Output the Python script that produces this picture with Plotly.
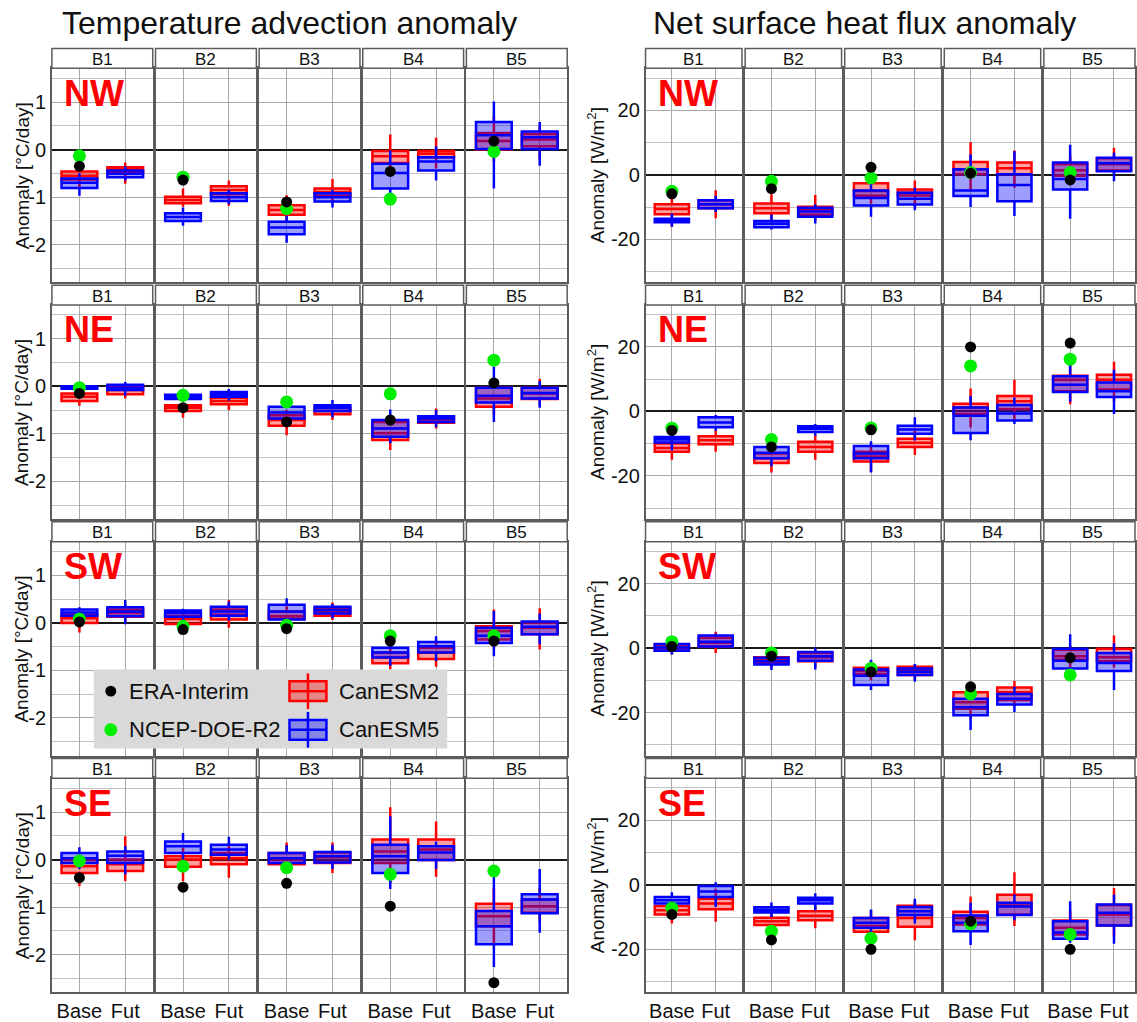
import plotly.graph_objects as go

W, H = 1137, 1022

regions = ["NW", "NE", "SW", "SE"]
basins = ["B1", "B2", "B3", "B4", "B5"]
periods = ["Base", "Fut"]

# Box statistics per region (rows) and basin (columns): (lower whisker, Q1, median, Q3, upper whisker)
# Temperature advection anomaly [°C/day]
adv_can2_base = [
    [(-0.80, -0.63, -0.55, -0.46, -0.35), (-1.20, -1.13, -1.06, -0.99, -0.82), (-1.50, -1.37, -1.27, -1.17, -0.96), (-0.50, -0.28, -0.14, -0.03, 0.32), (-0.25, 0.00, 0.18, 0.35, 0.70)],
    [(-0.41, -0.31, -0.22, -0.15, -0.08), (-0.66, -0.52, -0.45, -0.40, -0.35), (-1.03, -0.83, -0.71, -0.61, -0.50), (-1.34, -1.13, -0.99, -0.75, -0.60), (-0.60, -0.43, -0.26, -0.03, 0.10)],
    [(-0.20, 0.00, 0.10, 0.17, 0.25), (-0.15, -0.02, 0.08, 0.15, 0.20), (0.00, 0.08, 0.14, 0.24, 0.35), (-0.98, -0.85, -0.73, -0.63, -0.45), (-0.55, -0.35, -0.17, -0.07, 0.28)],
    [(-0.56, -0.28, -0.14, 0.00, 0.10), (-0.45, -0.15, 0.00, 0.07, 0.25), (-0.30, -0.10, 0.00, 0.14, 0.36), (-0.50, -0.07, 0.17, 0.42, 1.10), (-1.80, -1.40, -1.19, -0.93, -0.60)],
]
adv_can2_fut = [
    [(-0.72, -0.48, -0.42, -0.37, -0.27), (-1.18, -0.94, -0.85, -0.77, -0.65), (-1.10, -0.97, -0.89, -0.82, -0.62), (-0.40, -0.16, -0.09, -0.03, 0.25), (-0.20, 0.07, 0.21, 0.33, 0.50)],
    [(-0.26, -0.17, -0.08, 0.00, 0.05), (-0.50, -0.38, -0.31, -0.24, -0.15), (-0.71, -0.59, -0.52, -0.45, -0.40), (-0.89, -0.77, -0.70, -0.64, -0.47), (-0.40, -0.27, -0.15, -0.03, 0.16)],
    [(0.00, 0.13, 0.21, 0.28, 0.40), (-0.10, 0.07, 0.17, 0.28, 0.48), (0.06, 0.15, 0.24, 0.31, 0.43), (-0.92, -0.76, -0.63, -0.52, -0.40), (-0.56, -0.24, -0.10, 0.01, 0.31)],
    [(-0.45, -0.24, -0.10, 0.00, 0.49), (-0.38, -0.10, 0.03, 0.14, 0.35), (-0.28, -0.07, 0.05, 0.15, 0.36), (-0.36, -0.01, 0.21, 0.42, 0.80), (-1.30, -1.12, -0.98, -0.84, -0.60)],
]
adv_can5_base = [
    [(-0.97, -0.81, -0.70, -0.61, -0.50), (-1.60, -1.50, -1.42, -1.34, -1.22), (-1.96, -1.78, -1.64, -1.52, -1.39), (-1.00, -0.82, -0.49, -0.30, -0.02), (-0.82, 0.01, 0.30, 0.58, 1.01)],
    [(-0.10, -0.05, -0.03, 0.00, 0.02), (-0.32, -0.27, -0.22, -0.18, -0.14), (-0.85, -0.68, -0.55, -0.43, -0.29), (-1.20, -1.06, -0.89, -0.71, -0.49), (-0.75, -0.34, -0.20, -0.03, 0.41)],
    [(0.05, 0.15, 0.22, 0.28, 0.33), (0.05, 0.13, 0.21, 0.26, 0.30), (-0.07, 0.07, 0.24, 0.38, 0.52), (-0.90, -0.73, -0.62, -0.52, -0.35), (-0.70, -0.42, -0.27, -0.10, 0.25)],
    [(-0.20, -0.07, 0.03, 0.14, 0.26), (0.00, 0.14, 0.28, 0.38, 0.56), (-0.20, -0.07, 0.03, 0.14, 0.30), (-0.62, -0.28, 0.07, 0.31, 0.91), (-2.26, -1.78, -1.40, -1.08, -0.24)],
]
adv_can5_fut = [
    [(-0.65, -0.58, -0.51, -0.44, -0.35), (-1.15, -1.08, -1.00, -0.92, -0.85), (-1.22, -1.09, -1.00, -0.92, -0.85), (-0.65, -0.44, -0.25, -0.16, 0.07), (-0.34, 0.01, 0.26, 0.38, 0.58)],
    [(-0.20, -0.08, -0.03, 0.03, 0.09), (-0.30, -0.22, -0.17, -0.12, -0.06), (-0.65, -0.52, -0.45, -0.40, -0.29), (-0.86, -0.75, -0.68, -0.63, -0.50), (-0.45, -0.26, -0.14, -0.03, 0.11)],
    [(-0.03, 0.14, 0.24, 0.33, 0.48), (0.05, 0.15, 0.24, 0.34, 0.45), (0.10, 0.20, 0.27, 0.34, 0.40), (-0.80, -0.62, -0.49, -0.40, -0.28), (-0.45, -0.24, -0.08, 0.03, 0.20)],
    [(-0.31, -0.07, 0.08, 0.17, 0.28), (0.00, 0.10, 0.21, 0.31, 0.48), (-0.20, -0.06, 0.07, 0.16, 0.31), (-0.20, -0.01, 0.15, 0.28, 0.38), (-1.54, -1.13, -0.84, -0.73, -0.20)],
]
adv_era = [
    [-0.35, -0.64, -1.10, -0.46, 0.18],
    [-0.15, -0.45, -0.75, -0.71, 0.07],
    [0.02, -0.14, -0.12, -0.38, -0.38],
    [-0.38, -0.58, -0.50, -0.98, -2.59],
]
adv_ncep = [
    [-0.13, -0.58, -1.24, -1.04, -0.04],
    [-0.03, -0.19, -0.33, -0.16, 0.55],
    [0.08, -0.07, -0.05, -0.27, -0.27],
    [-0.03, -0.14, -0.17, -0.31, -0.24],
]

# Net surface heat flux anomaly [W/m2]
flux_can2_base = [
    [(-16.2, -12.2, -10.6, -9.1, -7.0), (-14.0, -11.9, -10.4, -8.9, -6.0), (-9.0, -6.5, -5.0, -2.6, 0.0), (-5.0, 0.2, 1.7, 4.0, 10.1), (-3.0, -0.3, 1.4, 3.3, 6.0)],
    [(-15.0, -12.5, -11.3, -9.9, -7.0), (-18.9, -16.0, -14.5, -13.0, -11.0), (-18.5, -15.5, -14.0, -12.5, -10.0), (-5.0, -0.8, 1.2, 2.4, 7.1), (2.2, 6.3, 9.8, 11.1, 15.0)],
    [(-2.0, -0.8, 0.0, 1.0, 2.0), (-6.0, -4.6, -3.6, -2.8, -1.5), (-10.0, -8.1, -7.1, -6.1, -4.0), (-22.0, -18.8, -16.8, -13.7, -12.0), (-6.0, -3.6, -2.5, -0.5, 1.0)],
    [(-12.0, -9.2, -7.9, -6.6, -5.0), (-14.0, -12.5, -11.3, -10.2, -8.0), (-17.0, -14.6, -12.8, -10.3, -8.0), (-14.0, -12.3, -10.3, -8.4, -3.6), (-17.0, -15.4, -13.3, -11.1, -8.0)],
]
flux_can2_fut = [
    [(-13.5, -10.4, -9.1, -7.9, -4.8), (-14.0, -12.4, -10.9, -9.9, -6.3), (-10.0, -6.4, -5.6, -4.6, -1.8), (-4.0, 0.2, 2.0, 3.8, 7.5), (0.0, 1.3, 3.3, 5.1, 8.4)],
    [(-12.5, -10.2, -8.9, -7.7, -5.9), (-15.0, -12.5, -11.0, -9.4, -7.4), (-13.5, -11.0, -9.7, -8.5, -6.0), (-3.0, 0.7, 3.2, 4.8, 9.8), (3.0, 6.8, 9.8, 11.4, 15.4)],
    [(-1.5, 0.5, 1.7, 3.2, 5.1), (-6.0, -4.1, -2.8, -1.5, 0.0), (-10.0, -8.3, -6.9, -5.8, -5.0), (-18.0, -16.2, -13.7, -12.2, -10.2), (-6.0, -4.1, -2.8, -0.2, 3.9)],
    [(-11.5, -7.6, -5.8, -4.3, -1.2), (-13.5, -11.0, -9.6, -8.2, -6.5), (-17.2, -13.0, -10.3, -6.5, -5.0), (-12.8, -9.2, -6.4, -3.1, 3.9), (-16.0, -12.6, -9.2, -6.3, -1.0)],
]
flux_can5_base = [
    [(-16.0, -14.7, -14.1, -13.6, -12.0), (-17.0, -16.3, -15.2, -14.3, -12.4), (-13.0, -9.5, -7.2, -4.9, 0.0), (-10.0, -6.6, -4.9, 1.7, 6.3), (-13.6, -4.6, -1.3, 3.8, 9.3)],
    [(-12.0, -9.6, -8.7, -7.9, -7.0), (-17.0, -14.5, -12.8, -11.0, -9.0), (-18.9, -14.5, -13.0, -10.7, -9.2), (-8.9, -6.7, -1.3, 1.2, 4.8), (3.0, 6.0, 8.3, 10.9, 14.9)],
    [(-2.0, -0.8, 0.2, 1.3, 2.5), (-6.8, -5.1, -4.1, -3.0, -1.5), (-13.0, -11.4, -8.6, -6.6, -3.6), (-25.4, -20.8, -18.3, -15.7, -12.7), (-8.0, -6.3, -3.9, -0.2, 4.3)],
    [(-7.0, -5.8, -4.8, -3.8, -2.3), (-10.0, -8.6, -7.8, -7.0, -5.5), (-16.0, -13.3, -11.8, -10.3, -7.7), (-18.7, -14.4, -11.8, -9.5, -5.6), (-18.0, -16.7, -14.8, -11.3, -5.1)],
]
flux_can5_fut = [
    [(-11.5, -10.4, -9.1, -7.9, -6.5), (-15.1, -13.0, -11.4, -10.2, -9.2), (-11.0, -9.2, -7.4, -5.6, -4.0), (-12.8, -8.2, -3.2, 0.2, 7.3), (-2.0, 1.1, 3.6, 5.3, 6.8)],
    [(-6.0, -4.9, -3.4, -1.8, -1.1), (-7.5, -6.4, -5.4, -4.6, -3.9), (-9.0, -6.9, -5.6, -4.4, -1.8), (-3.9, -2.8, -0.6, 2.0, 4.3), (-0.8, 4.5, 6.3, 9.0, 12.9)],
    [(0.0, 0.5, 2.0, 3.9, 4.5), (-6.6, -3.9, -2.5, -1.2, 0.2), (-10.4, -8.3, -7.3, -6.3, -4.9), (-19.8, -17.5, -15.7, -14.2, -12.0), (-13.0, -7.1, -4.6, -1.5, 1.5)],
    [(-6.9, -3.8, -2.1, -0.4, 0.8), (-8.0, -5.8, -4.8, -4.0, -2.6), (-12.0, -9.4, -8.2, -6.9, -4.3), (-11.0, -9.4, -6.7, -5.6, -3.0), (-18.3, -12.6, -8.7, -6.1, -3.1)],
]
flux_era = [
    [-5.9, -4.3, 2.3, 0.5, -1.6],
    [-5.9, -11.0, -5.7, 20.0, 21.2],
    [0.5, -2.5, -7.4, -12.0, -3.0],
    [-9.2, -17.1, -20.0, -11.3, -20.0],
]
flux_ncep = [
    [-5.1, -2.0, -1.0, 0.7, 0.7],
    [-5.2, -8.7, -5.1, 14.1, 16.2],
    [2.0, -1.5, -6.3, -14.2, -8.3],
    [-7.2, -14.4, -16.6, -12.1, -15.4],
]

# Y-axis setup for each variable
adv_yrange = [-2.79, 1.71]
adv_ticks = [-2, -1, 0, 1]
flux_yrange = [-33.3, 33.0]
flux_ticks = [-20, 0, 20]

FONT = "Liberation Sans, Arial, sans-serif"
RED_LINE, RED_FILL = "#ff0000", "rgba(255,0,0,0.38)"
BLUE_LINE, BLUE_FILL = "#0000ff", "rgba(0,0,255,0.38)"
GRID, GRID_MINOR, FRAME = "#a8a8a8", "#c2c2c2", "#5c5c5c"

# Page geometry (pixels)
ROW_TOP = [69 + r * 239 for r in range(4)]
PLOT_H = 216
STRIP_H = 20
panels = [
    dict(x0=[52 + c * 103.8 for c in range(5)], w=101.0,
         yrange=adv_yrange, ticks=adv_ticks, minor=0.5,
         can2=(adv_can2_base, adv_can2_fut), can5=(adv_can5_base, adv_can5_fut),
         era=adv_era, ncep=adv_ncep,
         title="Temperature advection anomaly", title_x=290,
         ylabel="Anomaly [°C/day]", ylabel_x=22),
    dict(x0=[646.7 + c * 99.75 for c in range(5)], w=96.6,
         yrange=flux_yrange, ticks=flux_ticks, minor=10,
         can2=(flux_can2_base, flux_can2_fut), can5=(flux_can5_base, flux_can5_fut),
         era=flux_era, ncep=flux_ncep,
         title="Net surface heat flux anomaly", title_x=866,
         ylabel="Anomaly [W/m<sup>2</sup>]", ylabel_x=597),
]

fig = go.Figure()
layout = dict(width=W, height=H, margin=dict(l=0, r=0, t=0, b=0),
              paper_bgcolor="white", plot_bgcolor="white",
              boxmode="overlay", showlegend=False,
              font=dict(family=FONT, color="#111111"))
shapes, annotations = [], []


def px(x):
    return x / W


def py(y):
    return 1 - y / H


X_LO, X_HI = -0.6, 1.6
BOX_W = 0.78
ax = 0
for p in panels:
    annotations.append(dict(x=px(p["title_x"]), y=py(23), xref="paper", yref="paper",
                            text=p["title"], showarrow=False, xanchor="center", yanchor="middle",
                            font=dict(size=32)))
    for r in range(4):
        top = ROW_TOP[r]
        annotations.append(dict(x=px(p["ylabel_x"]), y=py(top + PLOT_H / 2), xref="paper", yref="paper",
                                text=p["ylabel"], textangle=-90, showarrow=False,
                                xanchor="center", yanchor="middle", font=dict(size=19)))
        for c in range(5):
            ax += 1
            xn, yn = ("x" if ax == 1 else f"x{ax}"), ("y" if ax == 1 else f"y{ax}")
            x0 = p["x0"][c]
            x1 = min(x0 + p["w"], W)
            hi = X_LO + (x1 - x0) / p["w"] * (X_HI - X_LO)
            layout["xaxis" if ax == 1 else f"xaxis{ax}"] = dict(
                domain=[px(x0), px(x1)], range=[X_LO, hi], anchor=yn,
                tickmode="array", tickvals=[0, 1], ticktext=periods,
                showticklabels=(r == 3), tickfont=dict(size=20, color="#111111"),
                showgrid=True, gridcolor=GRID, gridwidth=1.3, zeroline=False,
                showline=True, mirror=True, linecolor=FRAME, linewidth=1.5,
                ticks="", fixedrange=True)
            layout["yaxis" if ax == 1 else f"yaxis{ax}"] = dict(
                domain=[py(top + PLOT_H), py(top)], range=p["yrange"], anchor=xn,
                tickmode="array", tickvals=p["ticks"], ticktext=[str(t) for t in p["ticks"]],
                showticklabels=(c == 0), tickfont=dict(size=20, color="#111111"),
                showgrid=True, gridcolor=GRID, gridwidth=1.3,
                minor=dict(tickmode="linear", tick0=0, dtick=p["minor"], showgrid=True,
                           gridcolor=GRID_MINOR, gridwidth=1),
                zeroline=True, zerolinecolor="#1a1a1a", zerolinewidth=2,
                showline=True, mirror=True, linecolor=FRAME, linewidth=1.5,
                ticks="", fixedrange=True)

            # model boxes: CanESM2 first, CanESM5 on top
            for (base, fut), lc, fc in ((p["can2"], RED_LINE, RED_FILL), (p["can5"], BLUE_LINE, BLUE_FILL)):
                b, f = base[r][c], fut[r][c]
                fig.add_trace(go.Box(
                    x=[0, 1], lowerfence=[b[0], f[0]], q1=[b[1], f[1]], median=[b[2], f[2]],
                    q3=[b[3], f[3]], upperfence=[b[4], f[4]], orientation="v",
                    width=BOX_W, whiskerwidth=0, boxpoints=False,
                    line=dict(color=lc, width=2.5), fillcolor=fc,
                    xaxis=xn, yaxis=yn, hoverinfo="skip"))
            # reanalysis values for the base period
            fig.add_trace(go.Scatter(x=[0], y=[p["ncep"][r][c]], mode="markers", xaxis=xn, yaxis=yn,
                                     marker=dict(color="#00ee00", size=13), cliponaxis=False,
                                     hoverinfo="skip"))
            fig.add_trace(go.Scatter(x=[0], y=[p["era"][r][c]], mode="markers", xaxis=xn, yaxis=yn,
                                     marker=dict(color="#000000", size=11), cliponaxis=False,
                                     hoverinfo="skip"))

            # facet strip
            shapes.append(dict(type="rect", xref="paper", yref="paper",
                               x0=px(x0), x1=px(x1), y0=py(top), y1=py(top - STRIP_H),
                               fillcolor="white", line=dict(color=FRAME, width=1.5)))
            annotations.append(dict(x=px(x0 + p["w"] / 2), y=py(top - STRIP_H / 2 + 1), xref="paper", yref="paper",
                                    text=basins[c], showarrow=False, xanchor="center", yanchor="middle",
                                    font=dict(size=17)))
        # region label
        annotations.append(dict(x=px(p["x0"][0] + 10), y=py(top + 25), xref="paper", yref="paper",
                                text=f"<b>{regions[r]}</b>", showarrow=False, xanchor="left",
                                yanchor="middle", font=dict(size=36, color="#ff0000")))

# legend panel
LEG = dict(x0=94, x1=448, y0=676, y1=756)
shapes.append(dict(type="rect", xref="paper", yref="paper", layer="above",
                   x0=px(LEG["x0"]), x1=px(LEG["x1"]), y0=py(LEG["y1"]), y1=py(LEG["y0"]),
                   fillcolor="#d9d9d9", line=dict(width=0)))
for cy, rad, col, label in ((698, 5.5, "#000000", "ERA-Interim"), (737, 6.5, "#00ee00", "NCEP-DOE-R2")):
    shapes.append(dict(type="circle", xref="paper", yref="paper", layer="above",
                       x0=px(111 - rad), x1=px(111 + rad), y0=py(cy + rad), y1=py(cy - rad),
                       fillcolor=col, line=dict(width=0)))
    annotations.append(dict(x=px(127), y=py(cy), xref="paper", yref="paper", text=label,
                            showarrow=False, xanchor="left", yanchor="middle", font=dict(size=22)))
for cy, lc, fc, label in ((698, RED_LINE, RED_FILL, "CanESM2"), (737, BLUE_LINE, BLUE_FILL, "CanESM5")):
    shapes.append(dict(type="rect", xref="paper", yref="paper", layer="above",
                       x0=px(290), x1=px(327), y0=py(cy + 10), y1=py(cy - 10),
                       fillcolor=fc, line=dict(color=lc, width=2.5)))
    shapes.append(dict(type="line", xref="paper", yref="paper", layer="above",
                       x0=px(290), x1=px(327), y0=py(cy), y1=py(cy), line=dict(color=lc, width=2.5)))
    shapes.append(dict(type="line", xref="paper", yref="paper", layer="above",
                       x0=px(308.5), x1=px(308.5), y0=py(cy + 18), y1=py(cy - 18), line=dict(color=lc, width=2.5)))
    annotations.append(dict(x=px(338), y=py(cy), xref="paper", yref="paper", text=label,
                            showarrow=False, xanchor="left", yanchor="middle", font=dict(size=22)))

layout["shapes"] = shapes
layout["annotations"] = annotations
fig.update_layout(**layout)
fig.write_html("out.html")
